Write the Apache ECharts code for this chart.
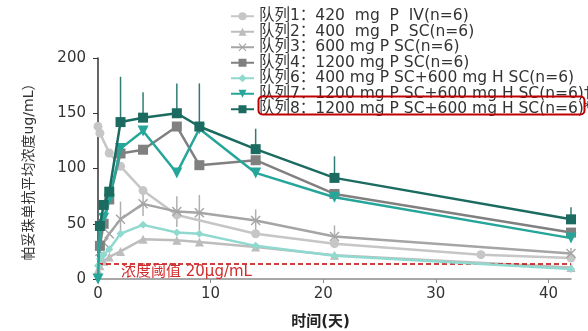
<!DOCTYPE html>
<html><head><meta charset="utf-8">
<script src="https://cdn.jsdelivr.net/npm/echarts@6/dist/echarts.min.js"></script>
<style>html,body{margin:0;padding:0;background:#fff}#c{width:588px;height:331px}</style>
</head><body><div id="c"></div>
<script>
// ---- data ----
const names = [
  "队列1：420  mg  P  IV(n=6)",
  "队列2：400  mg  P  SC(n=6)",
  "队列3：600 mg P SC(n=6)",
  "队列4：1200 mg P SC(n=6)",
  "队列6：400 mg P SC+600 mg H SC(n=6)",
  "队列7：1200 mg P SC+600 mg H SC(n=6)†",
  "队列8：1200 mg P SC+600 mg H SC(n=6)*"
];
const days1 = [0, 0.17, 1, 2, 4, 7, 14, 21, 34, 42];
const vals1 = [138, 132, 114, 102, 80, 58, 41, 32, 22, 19];
const days2 = [0, 0.17, 0.5, 1, 2, 4, 7, 9, 14, 21, 42];
const vals2 = [8, 12, 16, 20, 25, 36, 35, 33.5, 29, 21.5, 10.5];
const days3 = [0.17, 0.5, 1, 2, 4, 7, 9, 14, 21, 42];
const vals3 = [25, 33, 41, 54, 68, 61, 60, 53, 38.5, 23];
const err3 = [0, 0, 0, 16, 11, 14, 16, 10, 10, 5];
const days4 = [0.17, 0.5, 1, 2, 4, 7, 9, 14, 21, 42];
const vals4 = [30, 50, 72, 113.6, 117, 138, 103, 107.5, 77, 42];
const days6 = [0, 0.17, 0.5, 1, 2, 4, 7, 9, 14, 21, 42];
const vals6 = [12, 18, 22, 27, 41, 49, 42, 41, 30, 21, 9];
const days7 = [0, 0.17, 0.5, 1, 2, 4, 7, 9, 14, 21, 42];
const vals7 = [0, 45, 55, 72, 118, 134, 96, 136, 96, 74, 37];
const days8 = [0.17, 0.5, 1, 2, 4, 7, 9, 14, 21, 42];
const vals8 = [48, 67, 79, 142, 146, 150, 138, 117.5, 91.5, 54];
const errTop8 = [0, 0, 0, 183, 169, 177, 177, 136, 111, 65];
const xTicks = [0, 10, 20, 30, 40];
const threshold = 14;
const thresholdLabel = "浓度阈值 20μg/mL";
const xName = "时间(天)";
const yName = "帕妥珠单抗平均浓度ug/mL）";

// ---- build ----
const FONT = "DejaVu Sans, Noto Sans CJK SC, sans-serif";
const pairs = (d, v) => d.map((x, i) => [x, v[i]]);
const colors = ["#c6c6c6", "#bdbdbd", "#a5a5a5", "#808080", "#8fd9cf", "#26a69a", "#1b6b60"];
const crossPath = 'path://M0,1L1,0L5,4L9,0L10,1L6,5L10,9L9,10L5,6L1,10L0,9L4,5Z';
const sym = [
  {symbol: 'circle', symbolSize: 9},
  {symbol: 'triangle', symbolSize: 9},
  {symbol: crossPath, symbolSize: 10},
  {symbol: 'rect', symbolSize: 10},
  {symbol: 'diamond', symbolSize: 8},
  {symbol: 'triangle', symbolSize: 11, symbolRotate: 180},
  {symbol: 'rect', symbolSize: 10}
];
const dataSets = [pairs(days1, vals1), pairs(days2, vals2), pairs(days3, vals3), pairs(days4, vals4),
                  pairs(days6, vals6), pairs(days7, vals7), pairs(days8, vals8)];

const lineSeries = dataSets.map((d, i) => Object.assign({
  name: names[i], type: 'line', data: d, color: colors[i],
  lineStyle: {width: 2.5, color: colors[i]}, itemStyle: {color: colors[i]},
  showAllSymbol: true, z: 3 + i, animation: false
}, sym[i]));

function errSeries(data, color, z) {
  return {
    type: 'custom', data: data, z: z, animation: false, silent: true,
    renderItem: function (params, api) {
      const p1 = api.coord([api.value(0), api.value(1)]);
      const p2 = api.coord([api.value(0), api.value(2)]);
      return {type: 'line', shape: {x1: p1[0], y1: p1[1], x2: p2[0], y2: p2[1]},
              style: {stroke: color, lineWidth: 1.5}};
    }
  };
}
const err3Data = days3.map((x, i) => [x, vals3[i] - err3[i], vals3[i] + err3[i]]).filter((d, i) => err3[i] > 0);
const err8Data = days8.map((x, i) => [x, vals8[i], errTop8[i]]).filter((d, i) => errTop8[i] > 0);

lineSeries[0].markLine = {
  silent: true, symbol: ['none', 'none'], animation: false,
  lineStyle: {color: '#c00000', type: [5, 3], width: 1.5},
  label: {show: false},
  data: [{yAxis: threshold}]
};

const chart = echarts.init(document.getElementById('c'), null, {renderer: 'canvas'});
chart.setOption({
  animation: false,
  textStyle: {fontFamily: FONT},
  grid: {left: 98, right: 17, top: 58, bottom: 52, outerBoundsMode: 'none', containLabel: false},
  legend: {
    orient: 'vertical', left: 230, top: 8.5, padding: 0, itemWidth: 23, itemHeight: 10, itemGap: 0,
    data: names, textStyle: {fontSize: 15.5, color: '#333', fontFamily: FONT, lineHeight: 14.2}
  },
  xAxis: {
    type: 'value', min: 0, max: 42,
    name: xName, nameLocation: 'middle', nameGap: 36,
    nameTextStyle: {fontSize: 15, fontWeight: 'bold', color: '#222', padding: [0, 28, 0, 0]},
    axisLine: {lineStyle: {color: '#8c8c8c', width: 1.5}},
    axisTick: {show: true, length: 4, lineStyle: {color: '#8c8c8c'}, customValues: xTicks},
    axisLabel: {fontSize: 15, color: '#333', margin: 8, customValues: xTicks},
    splitLine: {show: false}
  },
  yAxis: {
    type: 'value', min: 0, max: 200, interval: 50,
    name: yName, nameLocation: 'middle', nameGap: 62, nameRotate: 90,
    nameTextStyle: {fontSize: 14, color: '#333'},
    axisLine: {show: true, lineStyle: {color: '#333', width: 1.5}},
    axisTick: {show: true, length: 5, lineStyle: {color: '#333'}},
    axisLabel: {fontSize: 15, color: '#333', margin: 12},
    splitLine: {show: false}
  },
  series: lineSeries.concat([errSeries(err3Data, '#b0b0b0', 2), errSeries(err8Data, '#2f7d72', 2)]),
  graphic: [
    {type: 'rect', left: 256, top: 94, shape: {width: 326, height: 18, r: 4},
     style: {fill: 'none', stroke: '#c00000', lineWidth: 2}, z: 100},
    {type: 'text', left: 121, top: 265,
     style: {text: thresholdLabel, fill: '#d22b2b', font: '15px ' + FONT}, z: 100}
  ]
});
</script></body></html>
